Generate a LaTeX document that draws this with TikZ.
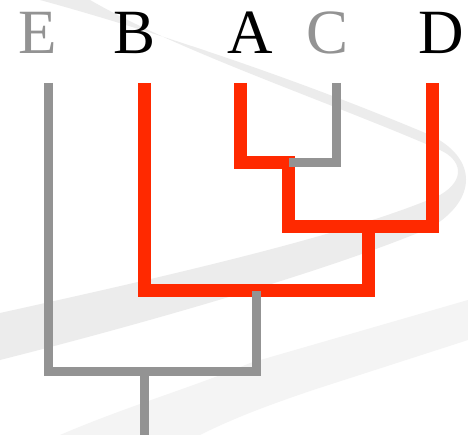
\documentclass[tikz,border=0pt]{standalone}
\usepackage{fontspec}
\setmainfont{Liberation Serif}
\definecolor{treegray}{RGB}{147,147,147}
\definecolor{treered}{RGB}{255,41,0}
\definecolor{swooshA}{RGB}{236,236,236}
\definecolor{swooshB}{RGB}{244,244,244}
\tikzset{
  grayline/.style={draw=treegray,line width=9pt,line join=miter},
  redline/.style={draw=treered,line width=13pt,line join=miter},
  leaflabel/.style={anchor=base,inner sep=0pt,font=\fontsize{63}{63}\selectfont},
}
\begin{document}
\begin{tikzpicture}[x=1pt,y=-1pt]
\useasboundingbox (0,0) rectangle (468,435);
\fill[white] (0,0) rectangle (468,435);
% background swooshes
\fill[swooshA] (40,0) .. controls (150,30) and (300,80) .. (430,135)
  .. controls (478,158) and (478,200) .. (430,228)
  .. controls (330,270) and (150,322) .. (0,360) -- (0,313)
  .. controls (150,280) and (350,235) .. (440,195)
  .. controls (466,180) and (462,160) .. (440,150)
  .. controls (330,102) and (180,52) .. (90,0) -- cycle;
\fill[swooshB] (60,435) .. controls (130,405) and (200,385) .. (250,363)
  -- (468,300) -- (468,340) -- (313,390) .. controls (260,408) and (230,420) .. (200,435) -- cycle;
% labels
\node[leaflabel,text=treegray] (E) at (38,54) {E};
\node[leaflabel,text=black] (B) at (135,54) {B};
\node[leaflabel,text=black] (A) at (250,54) {A};
\node[leaflabel,text=treegray] (C) at (328,54) {C};
\node[leaflabel,text=black] (D) at (441,54) {D};
% tree coordinates
\coordinate (e) at (48.5,83);
\coordinate (b) at (144.5,83);
\coordinate (a) at (240.5,83);
\coordinate (c) at (336.5,83);
\coordinate (d) at (432.5,83);
\coordinate (ac) at (288.5,163);
\coordinate (acd) at (368.5,227);
\coordinate (bacd) at (256.5,291);
\coordinate (all) at (144.5,371.5);
\coordinate (rootend) at (144.5,435);
% red lineage
\draw[redline] (a) |- (ac) -- (ac |- acd) -| (d);
\draw[redline] (b) |- (bacd -| acd) -- (acd);
% gray lineages
\draw[grayline] (c) |- (ac);
\draw[grayline] (e) |- (all -| bacd) -- (bacd);
\draw[grayline] (all) -- (rootend);
\end{tikzpicture}
\end{document}
